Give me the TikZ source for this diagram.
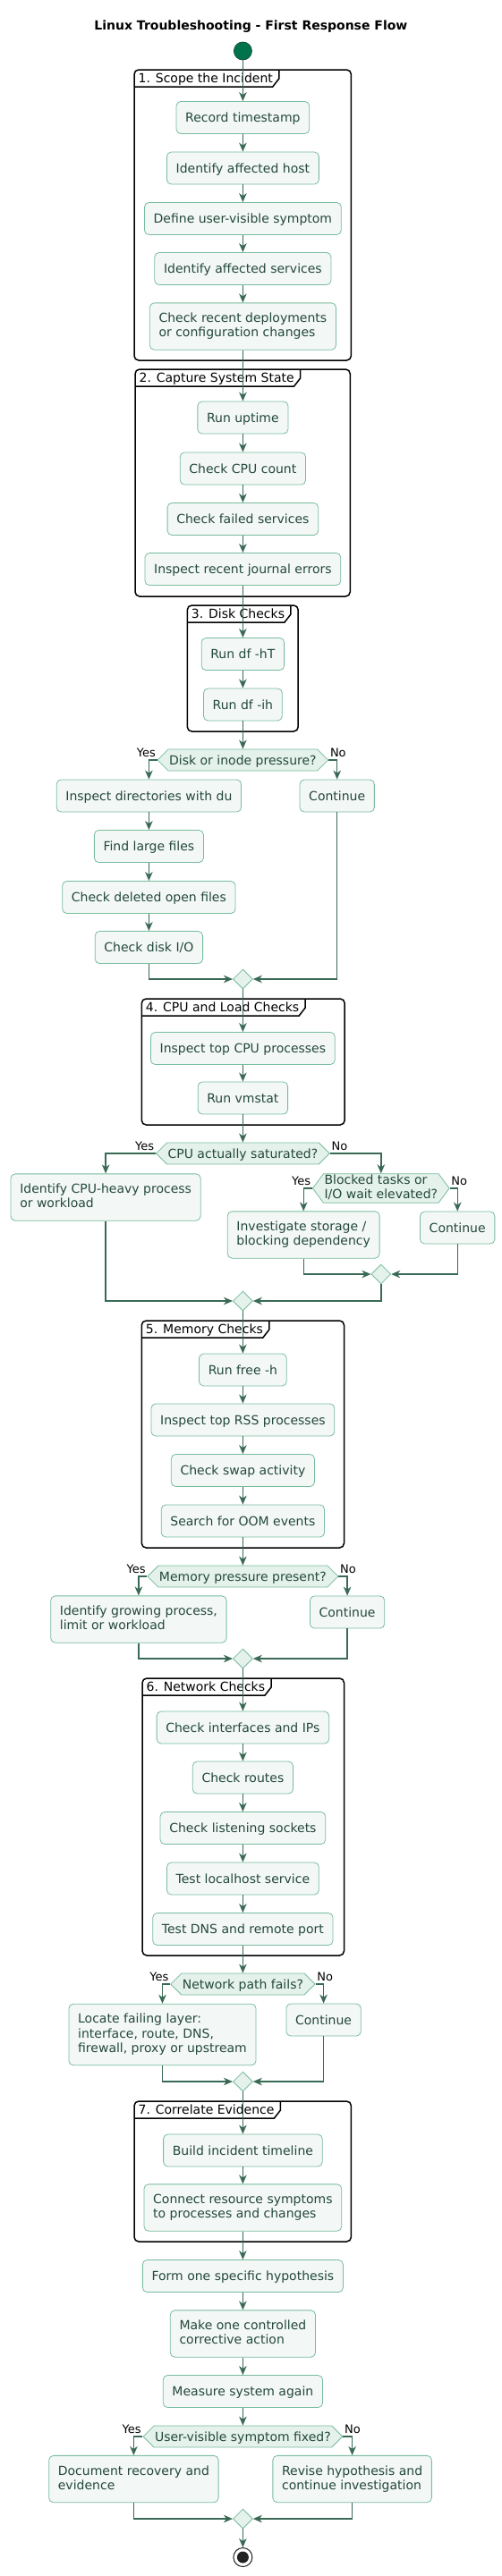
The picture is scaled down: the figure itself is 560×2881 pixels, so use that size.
\documentclass[tikz,border=0pt]{standalone}
\usepackage{fontspec}
\setmainfont{DejaVu Sans}
\usetikzlibrary{shapes.geometric,shapes.symbols,arrows.meta,calc}
\definecolor{boxborder}{RGB}{120,188,158}
\definecolor{boxfill}{RGB}{243,248,246}
\definecolor{decfill}{RGB}{228,242,235}
\definecolor{boxtext}{RGB}{36,72,58}
\definecolor{arrowcol}{RGB}{58,106,86}
\definecolor{startgreen}{RGB}{0,114,76}
\definecolor{startedge}{RGB}{20,80,58}
\definecolor{endcol}{RGB}{34,34,34}
\newcommand{\actfont}{\fontsize{14pt}{16.3pt}\selectfont}
\newcommand{\lblfont}{\fontsize{13pt}{15pt}\selectfont}
\newcommand{\ttlfont}{\fontsize{14pt}{16pt}\selectfont\bfseries}
\newcommand{\grpbox}[6]{%
  \draw[frameline, rounded corners=5pt] (#1,#2) rectangle (#3,#4);
  \node[grptitle, anchor=base west] (#6) at (#1+4.4,#2+14) {#5};
  \draw[frameline] let \p1=(#6.base east), \p2=(#1,#2), \p3=(#1,#2+10), \p4=(#1,#2+19) in
    (\p4) -- (\x1-0.3pt,\y4) -- (\x1+6.7pt,\y3) -- (\x1+6.7pt,\y2);
}
\tikzset{
  frameline/.style={draw=black, line width=1.5pt},
  grptitle/.style={font=\actfont, text=black, inner sep=0pt},
  act/.style={draw=boxborder, fill=boxfill, text=boxtext, rounded corners=5pt,
    line width=0.8pt, font=\actfont, align=left, inner xsep=10.2pt, inner ysep=3pt,
    minimum height=36pt,
    execute at begin node={\rule{0pt}{13.3pt}},
    execute at end node={\rule[-3.3pt]{0pt}{3.3pt}}},
  act2/.style={act, minimum height=52.3pt},
  act3/.style={act, minimum height=68.6pt},
  dec/.style={shape=signal, signal to=west and east, signal pointer angle=90,
    draw=boxborder, fill=decfill, text=boxtext, line width=0.8pt, font=\actfont,
    align=left, inner xsep=1pt, inner ysep=0pt, minimum height=24pt,
    execute at begin node={\rule{0pt}{13.3pt}},
    execute at end node={\rule[-3.3pt]{0pt}{3.3pt}}},
  dec2/.style={dec, minimum height=32.5pt, signal pointer angle=107},
  merge/.style={shape=diamond, draw=boxborder, fill=decfill, line width=0.8pt,
    minimum width=22pt, minimum height=22pt, inner sep=0pt},
  arr/.style={draw=arrowcol, line width=1.4pt, -{Stealth[length=10pt,width=8.5pt,inset=3pt]}},
  lbl/.style={font=\lblfont, text=black, inner sep=0pt},
  startc/.style={circle, fill=startgreen, draw=startedge, line width=0.8pt, minimum size=20pt, inner sep=0pt},
  endc/.style={circle, fill=white, draw=endcol, line width=1pt, minimum size=21pt, inner sep=0pt},
}
\begin{document}
\begin{tikzpicture}[x=1pt,y=-1pt]
\useasboundingbox (0,0) rectangle (560,2881);
\def\cxx{271.4}
% title
\node[font=\ttlfont, inner sep=0pt, anchor=base] (title) at (280.4,33.3) {Linux Troubleshooting - First Response Flow};
% group frames
\grpbox{150}{78}{392.4}{403}{1. Scope the Incident}{g1t}
\grpbox{151}{413}{391.3}{667}{2. Capture System State}{g2t}
\grpbox{209.3}{677}{333.2}{818}{3. Disk Checks}{g3t}
\grpbox{158.3}{1117}{385.2}{1258}{4. CPU and Load Checks}{g4t}
\grpbox{158.3}{1477}{384.5}{1731}{5. Memory Checks}{g5t}
\grpbox{159}{1877}{384.5}{2187}{6. Network Checks}{g6t}
\grpbox{150}{2350}{392.4}{2507}{7. Correlate Evidence}{g7t}
% nodes
\node[startc] (start) at (\cxx,57) {};
\node[act] (a1) at (\cxx,131.5) {Record timestamp};
\node[act] (a2) at (\cxx,188) {Identify affected host};
\node[act] (a3) at (\cxx,244.5) {Define user-visible symptom};
\node[act] (a4) at (\cxx,300.5) {Identify affected services};
\node[act2] (a5) at (\cxx,365) {Check recent deployments\\or configuration changes};
\node[act] (b1) at (\cxx,467) {Run uptime};
\node[act] (b2) at (\cxx,524) {Check CPU count};
\node[act] (b3) at (\cxx,580.5) {Check failed services};
\node[act] (b4) at (\cxx,636.5) {Inspect recent journal errors};
\node[act] (c1) at (\cxx,731.5) {Run df -hT};
\node[act] (c2) at (\cxx,788) {Run df -ih};
\node[dec] (d1) at (\cxx,850) {Disk or inode pressure?};
\node[act] (e1) at (166.4,890) {Inspect directories with du};
\node[act] (e5) at (376.7,890) {Continue};
\node[act] (e2) at (166.4,946.5) {Find large files};
\node[act] (e3) at (166.4,1003.5) {Check deleted open files};
\node[act] (e4) at (166.4,1059.5) {Check disk I/O};
\node[merge] (m1) at (\cxx,1095) {};
\node[act] (f1) at (\cxx,1172.5) {Inspect top CPU processes};
\node[act] (f2) at (\cxx,1228) {Run vmstat};
\node[dec] (d2) at (\cxx,1290) {CPU actually saturated?};
\node[act2] (g1) at (118.1,1339) {Identify CPU-heavy process\\or workload};
\node[dec2] (d3) at (425.8,1329) {Blocked tasks or\\I/O wait elevated?};
\node[act2] (h1) at (339.2,1381) {Investigate storage /\\blocking dependency};
\node[act] (h2) at (511.2,1373) {Continue};
\node[merge] (m2) at (425.8,1425) {};
\node[merge] (m3) at (\cxx,1455) {};
\node[act] (i1) at (\cxx,1532) {Run free -h};
\node[act] (i2) at (\cxx,1588) {Inspect top RSS processes};
\node[act] (i3) at (\cxx,1644.5) {Check swap activity};
\node[act] (i4) at (\cxx,1701) {Search for OOM events};
\node[dec] (d4) at (\cxx,1763) {Memory pressure present?};
\node[act2] (j1) at (154.9,1811) {Identify growing process,\\limit or workload};
\node[act] (j2) at (388.1,1803) {Continue};
\node[merge] (m4) at (\cxx,1855) {};
\node[act] (k1) at (\cxx,1932) {Check interfaces and IPs};
\node[act] (k2) at (\cxx,1988) {Check routes};
\node[act] (k3) at (\cxx,2044.5) {Check listening sockets};
\node[act] (k4) at (\cxx,2101) {Test localhost service};
\node[act] (k5) at (\cxx,2157.5) {Test DNS and remote port};
\node[dec] (d5) at (\cxx,2219) {Network path fails?};
\node[act3] (l1) at (181.5,2275.5) {Locate failing layer:\\interface, route, DNS,\\firewall, proxy or upstream};
\node[act] (l2) at (361.6,2259) {Continue};
\node[merge] (m5) at (\cxx,2328) {};
\node[act] (n1) at (\cxx,2405) {Build incident timeline};
\node[act2] (n2) at (\cxx,2469) {Connect resource symptoms\\to processes and changes};
\node[act] (o1) at (\cxx,2545.5) {Form one specific hypothesis};
\node[act2] (o2) at (\cxx,2610) {Make one controlled\\corrective action};
\node[act] (o3) at (\cxx,2674.5) {Measure system again};
\node[dec] (d6) at (\cxx,2725) {User-visible symptom fixed?};
\node[act2] (p1) at (149.4,2772.5) {Document recovery and\\evidence};
\node[act2] (p2) at (393.6,2772.5) {Revise hypothesis and\\continue investigation};
\node[merge] (m6) at (\cxx,2817) {};
\node[endc] (end) at (\cxx,2860) {};
\fill[endcol] (end.center) circle (6.5pt);
% yes / no labels
\foreach \d in {d1,d2,d3,d4,d5,d6}{
  \node[lbl, anchor=base east] (\d y) at ([xshift=-1.6pt,yshift=3.3pt]\d.west) {Yes};
  \node[lbl, anchor=base west] (\d n) at ([xshift=1.6pt,yshift=3.3pt]\d.east) {No};
}
% connectors
\draw[arr] (start.south) -- (a1.north);
\draw[arr] (a1.south) -- (a2.north);
\draw[arr] (a2.south) -- (a3.north);
\draw[arr] (a3.south) -- (a4.north);
\draw[arr] (a4.south) -- (a5.north);
\draw[arr] (a5.south) -- (b1.north);
\draw[arr] (b1.south) -- (b2.north);
\draw[arr] (b2.south) -- (b3.north);
\draw[arr] (b3.south) -- (b4.north);
\draw[arr] (b4.south) -- (c1.north);
\draw[arr] (c1.south) -- (c2.north);
\draw[arr] (c2.south) -- (d1.north);
\draw[arr] (d1.west) -| (e1.north);
\draw[arr] (d1.east) -| (e5.north);
\draw[arr] (e1.south) -- (e2.north);
\draw[arr] (e2.south) -- (e3.north);
\draw[arr] (e3.south) -- (e4.north);
\draw[arr] (e4.south) |- (m1.west);
\draw[arr] (e5.south) |- (m1.east);
\draw[arr] (m1.south) -- (f1.north);
\draw[arr] (f1.south) -- (f2.north);
\draw[arr] (f2.south) -- (d2.north);
\draw[arr] (d2.west) -| (g1.north);
\draw[arr] (d2.east) -| (d3.north);
\draw[arr] (d3.west) -| (h1.north);
\draw[arr] (d3.east) -| (h2.north);
\draw[arr] (h1.south) |- (m2.west);
\draw[arr] (h2.south) |- (m2.east);
\draw[arr] (g1.south) |- (m3.west);
\draw[arr] (m2.south) |- (m3.east);
\draw[arr] (m3.south) -- (i1.north);
\draw[arr] (i1.south) -- (i2.north);
\draw[arr] (i2.south) -- (i3.north);
\draw[arr] (i3.south) -- (i4.north);
\draw[arr] (i4.south) -- (d4.north);
\draw[arr] (d4.west) -| (j1.north);
\draw[arr] (d4.east) -| (j2.north);
\draw[arr] (j1.south) |- (m4.west);
\draw[arr] (j2.south) |- (m4.east);
\draw[arr] (m4.south) -- (k1.north);
\draw[arr] (k1.south) -- (k2.north);
\draw[arr] (k2.south) -- (k3.north);
\draw[arr] (k3.south) -- (k4.north);
\draw[arr] (k4.south) -- (k5.north);
\draw[arr] (k5.south) -- (d5.north);
\draw[arr] (d5.west) -| (l1.north);
\draw[arr] (d5.east) -| (l2.north);
\draw[arr] (l1.south) |- (m5.west);
\draw[arr] (l2.south) |- (m5.east);
\draw[arr] (m5.south) -- (n1.north);
\draw[arr] (n1.south) -- (n2.north);
\draw[arr] (n2.south) -- (o1.north);
\draw[arr] (o1.south) -- (o2.north);
\draw[arr] (o2.south) -- (o3.north);
\draw[arr] (o3.south) -- (d6.north);
\draw[arr] (d6.west) -| (p1.north);
\draw[arr] (d6.east) -| (p2.north);
\draw[arr] (p1.south) |- (m6.west);
\draw[arr] (p2.south) |- (m6.east);
\draw[arr] (m6.south) -- (end.north);
\end{tikzpicture}
\end{document}
